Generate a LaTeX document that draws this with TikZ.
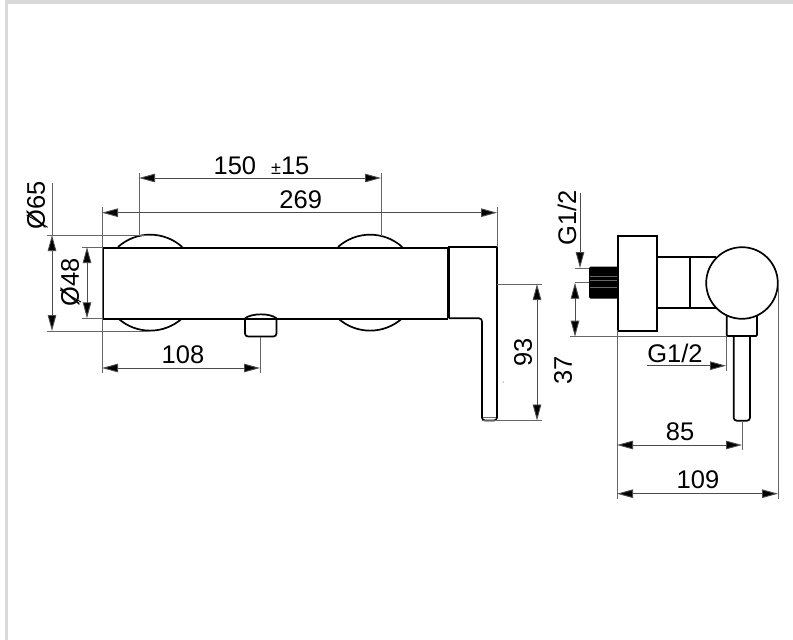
\documentclass[tikz,border=0pt]{standalone}
\usepackage{fontspec}
\setmainfont{Liberation Sans}
\usetikzlibrary{arrows.meta}
\definecolor{framegray}{HTML}{D9D9D9}
\tikzset{
  part/.style={draw=black, line width=1.7pt},
  helpline/.style={draw=black!60, line width=0.9pt},
  dimline/.style={draw=black!70, line width=0.9pt, {Triangle[length=16pt,width=8.5pt,fill=black]}-{Triangle[length=16pt,width=8.5pt,fill=black]}},
  dimend/.style={draw=black!70, line width=0.9pt, -{Triangle[length=16pt,width=8.5pt,fill=black]}},
  dimtext/.style={font=\fontsize{25.5}{25.5}\selectfont, inner sep=0pt},
}
\begin{document}
\begin{tikzpicture}[x=1pt,y=-1pt]
\useasboundingbox (0,0) rectangle (793,640);
\fill[white] (0,0) rectangle (793,640);
\fill[framegray] (5,0) rectangle (793,3.5);
\fill[framegray] (5,0) rectangle (8,640);

% front view
\draw[part] (118,247) arc[start angle=132, end angle=48, radius=48pt];
\draw[part] (118,318.3) arc[start angle=228, end angle=312, radius=48pt];
\draw[part] (338,247) arc[start angle=132, end angle=48, radius=48pt];
\draw[part] (338,318.3) arc[start angle=228, end angle=312, radius=48pt];
\node[part, fill=white, minimum width=344.7pt, minimum height=71.3pt, inner sep=0pt, anchor=north west] at (102,247) (body) {};
\draw[part, rounded corners=3pt] (245,318.3) -- (245,336.5) -- (276.5,336.5) -- (276.5,318.3);
\draw[part] (245,318.3) .. controls (252,313) and (270,313) .. (276.5,318.3);
\draw[part] (449,318.3) -- (449,247) -- (497,247) [rounded corners=3pt] -- (497,420.5) -- (482,420.5) -- (482,318.3) -- (449,318.3);
\draw[helpline] (483,417.8) -- (496,417.8);
\fill (503,382) circle[radius=0.5pt];

% front view dimensions
\draw[helpline] (139,173) -- (139,236);
\draw[helpline] (381,173) -- (381,236);
\draw[helpline] (102,207) -- (102,373);
\draw[helpline] (497,207) -- (497,247);
\draw[helpline] (47,235) -- (150,235);
\draw[helpline] (47,331) -- (150,331);
\draw[helpline] (52,183) -- (52,235);
\draw[helpline] (82,247) -- (102,247);
\draw[helpline] (82,318.3) -- (102,318.3);
\draw[helpline] (260,337) -- (260,373);
\draw[helpline] (497,284) -- (542,284);
\draw[helpline] (482,420.5) -- (542,420.5);
\draw[dimline] (139,178) -- (381,178);
\draw[dimline] (102,212.7) -- (497,212.7);
\draw[dimline] (52,235) -- (52,331);
\draw[dimline] (87,247) -- (87,318.3);
\draw[dimline] (102,368) -- (260,368);
\draw[dimline] (537,284) -- (537,420.5);
\node[dimtext] at (261.5,166) (pitch) {150\hspace{15pt}{\fontsize{18}{18}\selectfont ±}15};
\node[dimtext] at (300.7,200) (length) {269};
\node[dimtext, rotate=90] at (36,205) (plate) {Ø65};
\node[dimtext, rotate=90] at (70,282) (depth) {Ø48};
\draw[black, line width=0.9pt] (26.7,215) -- (47.7,227.3);
\draw[black, line width=0.9pt] (60,290) -- (81,302);
\node[dimtext] at (183,355) (outlet) {108};
\node[dimtext, rotate=90] at (523,352) (lever) {93};

% side view
\fill[black, rounded corners=1.5pt] (589,266.7) rectangle (618,298.7);
\draw[helpline, line width=0.5pt] (590,276) -- (617,276);
\draw[helpline, line width=0.5pt] (590,280) -- (617,280);
\draw[helpline, line width=0.5pt] (590,287) -- (617,287);
\node[part, minimum width=39.3pt, minimum height=95pt, inner sep=0pt, anchor=north west] at (617,235) (plateside) {};
\draw[part] (656.3,257.3) -- (716,257.3);
\draw[part] (656.3,308.3) -- (716,308.3);
\draw[part] (690.3,257.3) -- (690.3,308.3);
\draw[part, rounded corners=1pt] (726.7,312) -- (726.7,336) -- (757,336) -- (757,312);
\draw[part, rounded corners=3pt] (733.7,336) -- (733.7,420.7) -- (750,420.7) -- (750,336);
\node[part, fill=white, circle, minimum size=71.6pt, inner sep=0pt] at (742,283) (knob) {};

% side view dimensions
\draw[helpline] (575,268) -- (589,268);
\draw[helpline] (575,282.7) -- (589,282.7);
\draw[helpline] (570,336.7) -- (727,336.7);
\draw[helpline] (726.5,336.7) -- (726.5,370.7);
\draw[helpline] (742,421) -- (742,450);
\draw[helpline] (617,330) -- (617,499);
\draw[helpline] (778,283) -- (778,499);
\draw[dimend] (580,192.5) -- (580,268);
\draw[dimline] (575,282.7) -- (575,336.7);
\draw[dimend] (647,365.7) -- (726,365.7);
\draw[dimline] (617,445) -- (742,445);
\draw[dimline] (617,493.7) -- (778,493.7);
\node[dimtext, rotate=90] at (567,218) (inlet) {G1/2};
\node[dimtext, rotate=90] at (563,370) (axis) {37};
\node[dimtext] at (675,353) (spout) {G1/2};
\node[dimtext] at (680,431.7) (reach) {85};
\node[dimtext] at (698,480) (depthside) {109};
\end{tikzpicture}
\end{document}
